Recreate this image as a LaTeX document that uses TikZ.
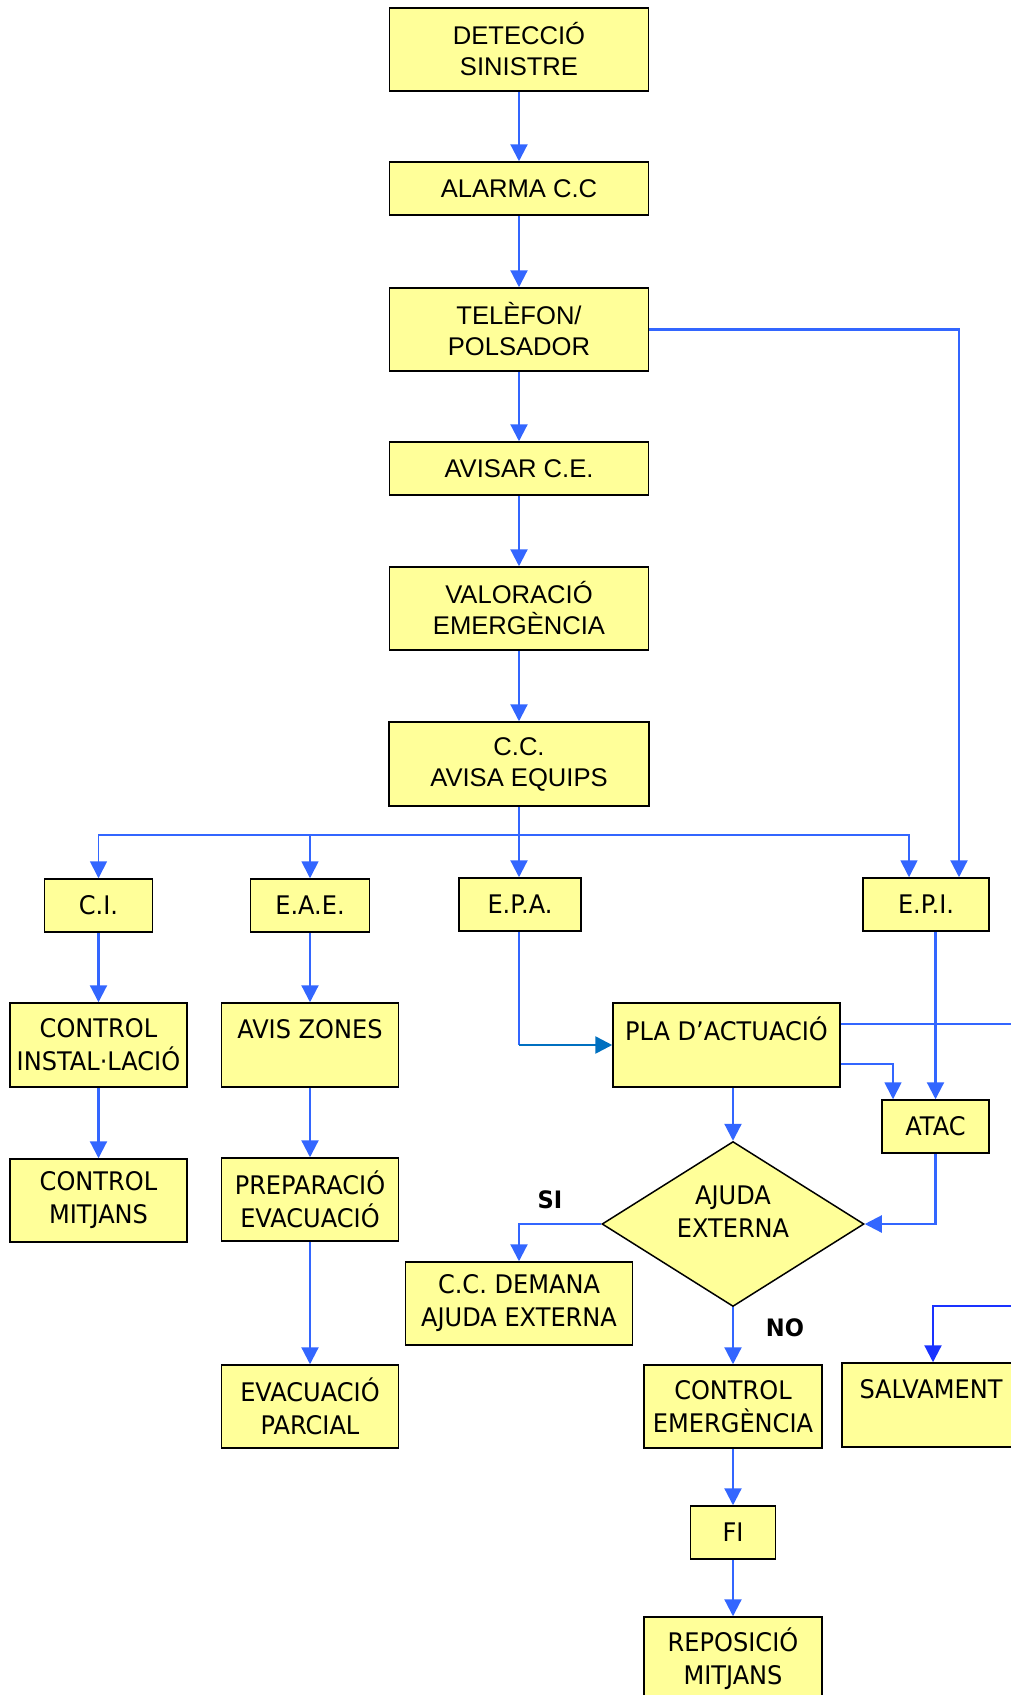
\documentclass[tikz,border=0pt]{standalone}
\usepackage{fontspec}
\setmainfont{Liberation Sans}
\newfontfamily\tahoma[FakeStretch=0.94]{DejaVu Sans}
\usetikzlibrary{arrows.meta,shapes.geometric}

\definecolor{boxfill}{RGB}{255,255,153}
\definecolor{linkblue}{RGB}{51,102,255}
\definecolor{linkdark}{RGB}{0,112,192}
\definecolor{linkpure}{RGB}{26,51,255}

\tikzset{
  box/.style={draw=black,fill=boxfill,line width=1.5pt,align=center,inner sep=0pt,
    font=\fontsize{25.6}{31}\selectfont},
  tbox/.style={box,font=\tahoma\fontsize{25.6}{33}\selectfont},
  flow/.style={draw=linkblue,line width=2.2pt,-{Triangle[length=17pt,width=17pt]}},
  thinflow/.style={flow,line width=1.7pt},
  plainlink/.style={draw=linkblue,line width=1.7pt},
  answer/.style={font=\tahoma\bfseries\fontsize{24}{28}\selectfont}
}

\begin{document}
\begin{tikzpicture}[x=1pt,y=1pt,yscale=-1,xscale=1]
\clip (0,0) rectangle (1011,1695);

%Main column
\node[box,minimum width=259pt,minimum height=83pt] (detec) at (519,49.5) {DETECCIÓ\\SINISTRE};
\node[box,minimum width=259pt,minimum height=53pt] (alarma) at (519,188.5) {ALARMA C.C};
\node[box,minimum width=259pt,minimum height=83pt] (telef) at (519,329.5) {TELÈFON/\\POLSADOR};
\node[box,minimum width=259pt,minimum height=53pt] (avisar) at (519,468.5) {AVISAR C.E.};
\node[box,minimum width=259pt,minimum height=83pt] (valor) at (519,608.5) {VALORACIÓ\\EMERGÈNCIA};
\node[box,minimum width=260pt,minimum height=84pt] (ccavisa) at (519,764) {C.C.\\AVISA EQUIPS};

%Equips
\node[tbox,minimum width=108pt,minimum height=53pt] (ci) at (98.5,905.5) {C.I.};
\node[tbox,minimum width=119pt,minimum height=53pt] (eae) at (310,905.5) {E.A.E.};
\node[tbox,minimum width=122pt,minimum height=53pt] (epa) at (520,904.5) {E.P.A.};
\node[tbox,minimum width=126pt,minimum height=53pt] (epi) at (926,904.5) {E.P.I.};

%Left branches
\node[tbox,minimum width=177pt,minimum height=84pt] (ctrlinst) at (98.5,1045) {CONTROL\\INSTAL·LACIÓ};
\node[tbox,minimum width=177pt,minimum height=83pt] (ctrlmit) at (98.5,1200.5) {CONTROL\\MITJANS};
\node[tbox,minimum width=177pt,minimum height=84pt] (aviszon) at (310,1045) {AVIS ZONES\\~};
\node[tbox,minimum width=177pt,minimum height=83pt] (prepar) at (310,1199.5) {PREPARACIÓ\\EVACUACIÓ};
\node[tbox,minimum width=177pt,minimum height=83pt] (evacua) at (310,1406.5) {EVACUACIÓ\\PARCIAL};

%Right branches
\node[tbox,minimum width=227pt,minimum height=84pt] (pla) at (726.5,1045) {PLA D’ACTUACIÓ\\~};
\node[tbox,minimum width=107pt,minimum height=53pt] (atac) at (935.5,1126.5) {ATAC};
\node[tbox,shape=diamond,aspect=1.59,minimum width=262pt,minimum height=165pt] (ajuda) at (733,1224) {AJUDA\\EXTERNA\\[-8pt]{}};
\node[tbox,minimum width=227pt,minimum height=83pt] (ccdemana) at (519,1303.5) {C.C. DEMANA\\AJUDA EXTERNA};
\node[tbox,minimum width=178pt,minimum height=83pt] (ctrlem) at (733,1406.5) {CONTROL\\EMERGÈNCIA};
\node[tbox,minimum width=178pt,minimum height=84pt] (salvam) at (931,1405) {SALVAMENT\\~};
\node[tbox,minimum width=85pt,minimum height=53pt] (fi) at (733,1532.5) {FI};
\node[tbox,minimum width=178pt,minimum height=83pt] (reposi) at (733,1658.5) {REPOSICIÓ\\MITJANS};

% Text Node
\node[answer] (si) at (550,1200) {SI};
% Text Node
\node[answer] (no) at (785,1328) {NO};

%Free ends
\coordinate (bus) at (519,835);
\coordinate (plaout) at (1011,1024);
\coordinate (salvin) at (1011,1306);

%Straight Lines
\draw[flow] (detec) -- (alarma);
\draw[flow] (alarma) -- (telef);
\draw[flow] (telef) -- (avisar);
\draw[flow] (avisar) -- (valor);
\draw[flow] (valor) -- (ccavisa);
\draw[flow] (ccavisa.south -| bus) -- (bus |- epa.north);
\draw[thinflow] (bus) -| (ci.north);
\draw[thinflow] (bus) -| (eae.north);
\draw[thinflow] (bus) -| ([xshift=-17pt]epi.north);
\draw[flow] (telef.east) -| ([xshift=33pt]epi.north);

\draw[flow] (ci) -- (ctrlinst);
\draw[flow] (ctrlinst) -- (ctrlmit);
\draw[flow] (eae) -- (aviszon);
\draw[flow] (aviszon) -- (prepar);
\draw[flow] (prepar) -- (evacua);

\draw[plainlink] (epa.south -| bus) -- (bus |- pla.west);
\draw[linkdark,line width=2.6pt,-{Triangle[length=17pt,width=17pt]}] (bus |- pla.west) -- (pla.west);
\draw[plainlink] ([yshift=-21pt]pla.east) -- (plaout);
\draw[thinflow] ([yshift=19pt]pla.east) -| ([xshift=-42.5pt]atac.north);
\draw[flow] (atac.north |- epi.south) -- (atac.north);
\draw[flow] (ajuda.north |- pla.south) -- (ajuda.north);
\draw[flow] (atac.south) |- (ajuda.east);
\draw[flow] (ajuda.west) -| (ccdemana.north);
\draw[flow] (ajuda.south) -- (ctrlem.north);
\draw[flow,draw=linkpure] (salvin) -| ([xshift=2pt]salvam.north);
\draw[flow] (ctrlem) -- (fi);
\draw[flow] (fi) -- (reposi);

\end{tikzpicture}
\end{document}
